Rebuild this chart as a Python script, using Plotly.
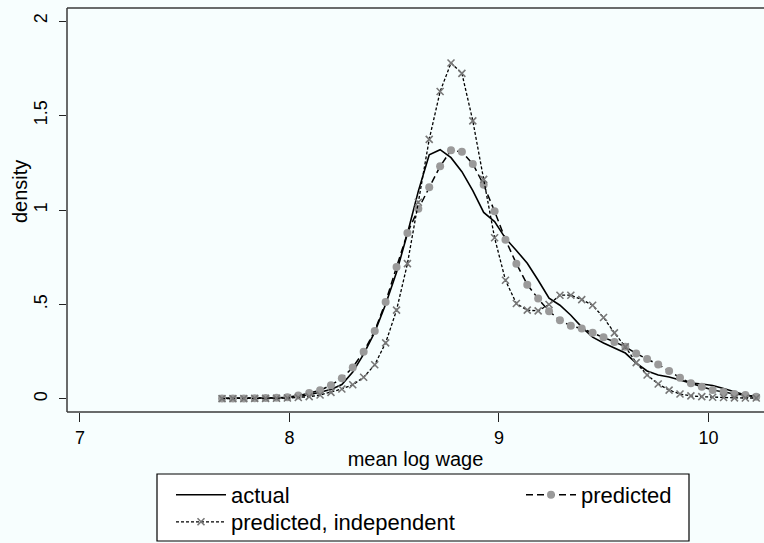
import plotly.graph_objects as go

wage = [7.678, 7.730, 7.782, 7.834, 7.886, 7.938, 7.990, 8.042, 8.094, 8.146,
        8.198, 8.250, 8.302, 8.354, 8.407, 8.459, 8.511, 8.563, 8.615, 8.667,
        8.719, 8.771, 8.823, 8.875, 8.927, 8.979, 9.031, 9.083, 9.135, 9.187,
        9.239, 9.291, 9.343, 9.395, 9.447, 9.499, 9.551, 9.603, 9.655, 9.707,
        9.760, 9.812, 9.864, 9.916, 9.968, 10.020, 10.072, 10.124, 10.176, 10.228]

actual = [0.004, 0.004, 0.004, 0.005, 0.005, 0.006, 0.008, 0.013, 0.022, 0.038,
          0.050, 0.076, 0.142, 0.237, 0.354, 0.501, 0.670, 0.876, 1.100, 1.292,
          1.319, 1.277, 1.203, 1.103, 0.987, 0.939, 0.850, 0.786, 0.718, 0.628,
          0.533, 0.496, 0.443, 0.380, 0.327, 0.296, 0.269, 0.243, 0.190, 0.148,
          0.127, 0.116, 0.100, 0.084, 0.079, 0.071, 0.055, 0.037, 0.021, 0.011]

predicted = [0.003, 0.003, 0.003, 0.004, 0.005, 0.006, 0.009, 0.018, 0.031, 0.046,
             0.073, 0.109, 0.167, 0.250, 0.360, 0.513, 0.698, 0.878, 1.006, 1.120,
             1.231, 1.316, 1.308, 1.244, 1.133, 0.993, 0.843, 0.716, 0.605, 0.531,
             0.464, 0.417, 0.387, 0.373, 0.350, 0.326, 0.302, 0.276, 0.241, 0.211,
             0.183, 0.148, 0.112, 0.083, 0.065, 0.047, 0.037, 0.026, 0.021, 0.012]

independent = [0.002, 0.002, 0.002, 0.003, 0.003, 0.004, 0.005, 0.008, 0.012, 0.021,
               0.035, 0.053, 0.075, 0.115, 0.181, 0.297, 0.470, 0.716, 1.041, 1.374,
               1.627, 1.778, 1.723, 1.472, 1.162, 0.853, 0.628, 0.505, 0.470, 0.466,
               0.500, 0.549, 0.549, 0.526, 0.496, 0.431, 0.350, 0.276, 0.192, 0.127,
               0.079, 0.047, 0.026, 0.016, 0.012, 0.009, 0.008, 0.006, 0.005, 0.005]

x_ticks = [7, 8, 9, 10]
x_ticklabels = ["7", "8", "9", "10"]
y_ticks = [0, 0.5, 1, 1.5, 2]
y_ticklabels = ["0", ".5", "1", "1.5", "2"]

FONT = "Liberation Sans, Arial, Helvetica, sans-serif"
BG = "#F7FEFE"

fig = go.Figure()
fig.add_trace(go.Scatter(
    x=wage, y=actual, mode="lines", name="actual",
    line=dict(color="black", width=1.6), legend="legend"))
fig.add_trace(go.Scatter(
    x=wage, y=predicted, mode="lines+markers", name="predicted",
    line=dict(color="black", width=1.5, dash="7px,4px"),
    marker=dict(symbol="circle", size=8, color="#9a9a9a"), legend="legend2"))
fig.add_trace(go.Scatter(
    x=wage, y=independent, mode="lines+markers", name="predicted, independent",
    line=dict(color="black", width=1.3, dash="3px,2px"),
    marker=dict(symbol="x-thin", size=7, color="#777777",
                line=dict(width=1.6, color="#777777")), legend="legend3"))

W, H = 764, 543
L, T, B = 67, 8, 412
pw = W - L
ph = B - T

leg_common = dict(xref="container", yref="container", xanchor="left",
                  yanchor="middle", bgcolor="rgba(0,0,0,0)", borderwidth=0,
                  font=dict(size=22), itemwidth=50)

fig.update_layout(
    width=W, height=H,
    margin=dict(l=L, r=0, t=T, b=H - B, autoexpand=False),
    paper_bgcolor=BG, plot_bgcolor=BG,
    font=dict(family=FONT, color="black", size=18),
    xaxis=dict(
        range=[6.938, 10.265], tickvals=x_ticks, ticktext=x_ticklabels,
        ticks="outside", ticklen=9, tickwidth=1.3, tickcolor="#222",
        tickangle=0, automargin=True, ticklabelstandoff=0,
        showgrid=False, zeroline=False, showline=False,
        tickfont=dict(size=18),
        title=dict(text="mean log wage", font=dict(size=20), standoff=5)),
    yaxis=dict(
        range=[-0.069, 2.069], tickvals=y_ticks, ticktext=y_ticklabels,
        ticks="outside", ticklen=7, tickwidth=1.3, tickcolor="#222",
        tickangle=-90, automargin=True, ticklabelstandoff=5,
        showgrid=False, zeroline=False, showline=False,
        tickfont=dict(size=18)),
    legend=dict(x=171 / W, y=1 - 495 / H, **leg_common),
    legend2=dict(x=521 / W, y=1 - 495 / H, **leg_common),
    legend3=dict(x=171 / W, y=1 - 522 / H, **leg_common),
    showlegend=True,
)

# y-axis title
fig.add_annotation(text="density", xref="paper", yref="paper",
                   x=(20 - L) / pw, y=(B - 192) / ph, xanchor="center", yanchor="middle",
                   textangle=-90, showarrow=False, font=dict(size=20))

# plot region outline (top, left, bottom)
border = dict(color="#3a3a3a", width=1.5)
fig.add_shape(type="line", xref="x domain", yref="y domain", x0=0, x1=1, y0=1, y1=1, line=border)
fig.add_shape(type="line", xref="x domain", yref="y domain", x0=0, x1=0, y0=0, y1=1, line=border)
fig.add_shape(type="line", xref="x domain", yref="y domain", x0=0, x1=1, y0=0, y1=0, line=border)

# legend box
def px_to_paper_x(px):
    return (px - L) / pw

def px_to_paper_y(py):
    return (B - py) / ph

fig.add_shape(type="rect", xref="paper", yref="paper",
              x0=px_to_paper_x(157), x1=px_to_paper_x(689),
              y0=px_to_paper_y(541), y1=px_to_paper_y(474),
              line=dict(color="black", width=1.2), fillcolor="white", layer="below")

fig.write_html("out.html", config={"displayModeBar": False},
               post_script="document.body.style.margin='0';document.body.style.overflow='hidden';")
